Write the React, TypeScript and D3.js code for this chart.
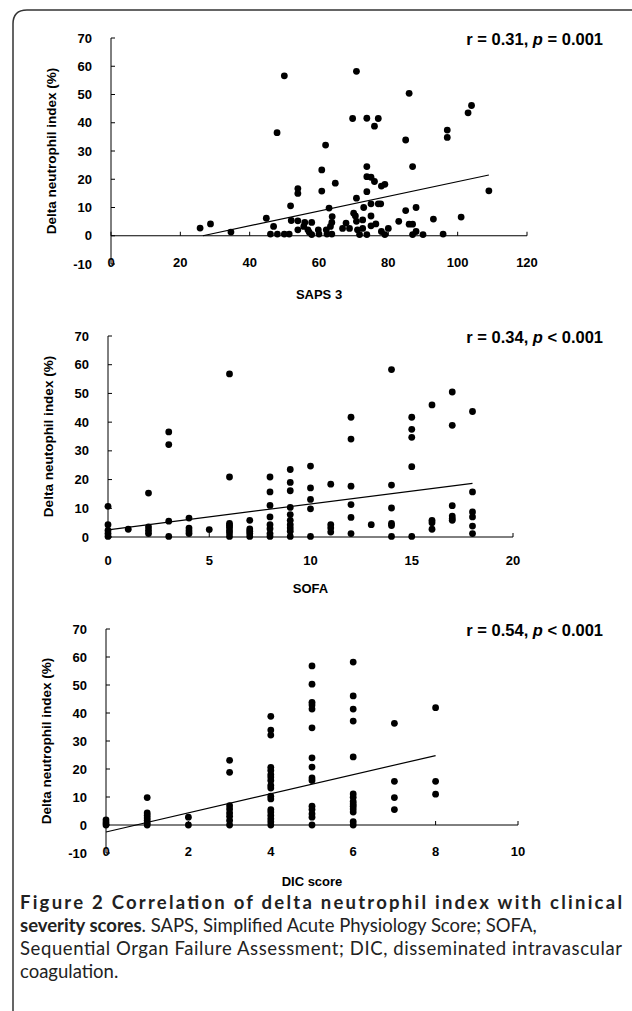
import React from "react";
import * as d3 from "d3";

// SAPS 3 panel: [score, delta neutrophil index]
const sapsPoints: [number, number][] = [
  [25.7, 2.7], [28.7, 4.2], [34.6, 1.3], [44.8, 6.2], [46.9, 3.3], [47.9, 36.5], [46, 0.6], [48, 0.6],
  [50, 56.6], [50, 0.6], [51.4, 0.6], [51.8, 10.6], [52, 5.4], [53.9, 16.7], [53.9, 15], [53.9, 5.3],
  [53.9, 2.1], [55.6, 3.3], [55.9, 4.7], [56.8, 2.1], [57.2, 1.2], [57.9, 4.7], [57.9, 0.4], [59.8, 2.1],
  [60, 0.6], [60.8, 23.3], [60.8, 15.8], [61.9, 32.1], [62.1, 2.1], [62.3, 0.6], [62.9, 9.8], [63.3, 3.3],
  [63.7, 4.7], [63.7, 0.6], [63.8, 6.8], [64.7, 18.6], [66.8, 2.6], [67.8, 4.5], [68.8, 2.6], [69.7, 41.5],
  [70, 8], [70.5, 7], [70.8, 58.2], [70.8, 13.3], [70.8, 5.1], [71.1, 2.1], [71.7, 0.4], [72.6, 2.6],
  [72.6, 5.6], [72.9, 10], [73.8, 41.6], [73.8, 24.5], [73.8, 20.9], [73.8, 15.6], [73.8, 0.4], [75, 20.7],
  [75, 11.3], [75, 7], [75, 3.5], [76, 38.8], [76, 19.2], [76.4, 4.2], [77.1, 41.5], [77.1, 11.3],
  [77.8, 11.3], [78, 17.6], [79, 18.2], [78, 1.5], [79, 0.4], [80, 2.6], [83, 5.1], [85, 33.9],
  [85, 8.9], [86, 50.4], [86, 4.1], [87, 24.5], [87, 4.1], [87, 0.4], [88, 10], [88, 1.5], [90, 0.4],
  [93, 5.9], [95.8, 0.6], [97, 37.4], [97, 34.8], [101, 6.6], [103, 43.5], [104, 46.1], [109, 15.9],
];
const sapsTrend: [number, number][] = [[26.5, 0], [109, 21.5]];

// SOFA panel: score -> list of values
const sofaGroups: [number, number[]][] = [
  [0, [10.7, 4.3, 2.3, 1.2, 0.2]],
  [1, [2.7]],
  [2, [15.3, 3.5, 2.3, 1.2]],
  [3, [36.6, 32.2, 5.5, 0.2]],
  [4, [6.6, 3.1, 2.1, 1.2]],
  [5, [2.6]],
  [6, [56.8, 20.9, 4.7, 4, 3.3, 2.3, 1.4, 0.2]],
  [7, [5.8, 2.8, 2, 1.2, 0.2]],
  [8, [20.9, 15.7, 11, 7, 4.3, 2.9, 1.2, 0.2]],
  [9, [23.5, 19, 16.1, 10.3, 7.8, 5.8, 4.3, 3.1, 2, 0.2]],
  [10, [24.7, 17.1, 13.1, 9.8, 0.2]],
  [11, [18.4, 4.3, 3.1, 1.7]],
  [12, [41.7, 34.1, 17.7, 11.3, 6.8, 1.2]],
  [13, [4.3]],
  [14, [58.3, 18.1, 10.1, 4.7, 4, 0.2]],
  [15, [41.7, 37.5, 34.7, 24.5, 0.2]],
  [16, [46, 5.8, 5, 2.7]],
  [17, [50.5, 38.9, 10.9, 7.3, 6.4, 5.8]],
  [18, [43.7, 15.7, 8.7, 7, 3.8, 1.2]],
];
const sofaTrend: [number, number][] = [[0, 2.5], [18, 18.7]];

// DIC panel
const dicGroups: [number, number[]][] = [
  [0, [1.8, 0.8, 0]],
  [1, [9.8, 4.3, 3.4, 2.5, 1.6, 0.7, 0]],
  [2, [2.8, 0]],
  [3, [23.1, 18.8, 6.9, 5.7, 4.3, 3.1, 1.6, 0]],
  [4, [38.8, 33.9, 32.1, 20.6, 19.5, 18, 17.1, 15.9, 14.1, 13.2, 10.3, 9.3, 5.5, 4.6, 3.4, 2.2, 1.2, 0]],
  [5, [56.8, 50.3, 43.8, 42.9, 41.4, 34.7, 24, 20.7, 16.8, 15.9, 6.7, 5.5, 4, 2.8, 0]],
  [6, [58.2, 46.1, 41.4, 37.1, 24.3, 11.1, 9.9, 8.4, 7.5, 6.7, 5.7, 4.6, 1.2, 0]],
  [7, [36.3, 15.6, 9.8, 5.5]],
  [8, [41.9, 15.6, 11]],
];
const dicTrend: [number, number][] = [[0, -2.5], [8, 24.8]];

const yTicksFull = [-10, 0, 10, 20, 30, 40, 50, 60, 70];
const yTicksPos = [0, 10, 20, 30, 40, 50, 60, 70];

const flat = (g: [number, number[]][]) =>
  g.flatMap(([x, ys]) => ys.map((y) => [x, y] as [number, number]));

const FONT = "'Liberation Sans', Arial, sans-serif";

type PanelProps = {
  points: [number, number][];
  trend: [number, number][];
  xDomain: [number, number];
  xRange: [number, number];
  xTicks: number[];
  yDomain: [number, number];
  yRange: [number, number];
  yTicks: number[];
  xLabel: string;
  xLabelY: number;
  tickLabelY: number;
  yLabel: string;
  stat: string;
  pSign: string;
};

const Panel = (p: PanelProps) => {
  const x = d3.scaleLinear().domain(p.xDomain).range(p.xRange);
  const y = d3.scaleLinear().domain(p.yDomain).range(p.yRange);
  const line = d3.line<[number, number]>().x((d) => x(d[0])).y((d) => y(d[1]));
  const x0 = x(p.xDomain[0]);
  const yMid = (p.yRange[0] + p.yRange[1]) / 2;
  return (
    <g fontFamily={FONT} fontWeight="bold">
      <line x1={x0} x2={x0} y1={y(p.yDomain[0])} y2={y(p.yDomain[1])} stroke="#000" />
      {p.yTicks.map((t) => (
        <g key={t}>
          <line x1={x0} x2={x0 + 4} y1={y(t)} y2={y(t)} stroke="#000" />
          <text x={x0 - 19} y={y(t)} dy="0.35em" textAnchor="end" fontSize={13}>{t}</text>
        </g>
      ))}
      <line x1={x0} x2={x(p.xDomain[1])} y1={y(0)} y2={y(0)} stroke="#000" />
      {p.xTicks.map((t) => (
        <g key={t}>
          <line x1={x(t)} x2={x(t)} y1={y(0)} y2={y(0) - 4} stroke="#000" />
          <text x={x(t)} y={p.tickLabelY} dy="0.35em" textAnchor="middle" fontSize={13}>{t}</text>
        </g>
      ))}
      <path d={line(p.trend) ?? ""} fill="none" stroke="#000" strokeWidth={1.2} />
      {p.points.map((d, i) => (
        <circle key={i} cx={x(d[0])} cy={y(d[1])} r={3.4} fill="#000" />
      ))}
      <text x={(p.xRange[0] + p.xRange[1]) / 2} y={p.xLabelY} dy="0.35em" textAnchor="middle" fontSize={13}>
        {p.xLabel}
      </text>
      <text transform={`translate(${x0 - 60},${yMid}) rotate(-90)`} textAnchor="middle" dy="0.35em" fontSize={13.5}>
        {p.yLabel}
      </text>
      <text x={603} y={y(70) + 1} dy="0.35em" textAnchor="end" fontSize={16.5}>
        {p.stat}, <tspan fontStyle="italic">p</tspan> {p.pSign}
      </text>
    </g>
  );
};

const App = () => (
  <svg width={632} height={1011} style={{ position: "absolute", left: 0, top: 0, background: "#fff" }}>
    <path d="M13,1011 L13,24 Q13,10 27,10 L632,10" fill="none" stroke="#333" strokeWidth={1.5} />
    <Panel points={sapsPoints} trend={sapsTrend} xDomain={[0, 120]} xRange={[111, 527]}
      xTicks={[0, 20, 40, 60, 80, 100, 120]} yDomain={[-10, 70]} yRange={[264, 38]} yTicks={yTicksFull}
      xLabel="SAPS 3" xLabelY={294} tickLabelY={262} yLabel="Delta neutrophil index (%)"
      stat="r = 0.31" pSign="= 0.001" />
    <Panel points={flat(sofaGroups)} trend={sofaTrend} xDomain={[0, 20]} xRange={[108, 513]}
      xTicks={[0, 5, 10, 15, 20]} yDomain={[0, 70]} yRange={[537, 336]} yTicks={yTicksPos}
      xLabel="SOFA" xLabelY={588} tickLabelY={560} yLabel="Delta neutophil index (%)"
      stat="r = 0.34" pSign="< 0.001" />
    <Panel points={flat(dicGroups)} trend={dicTrend} xDomain={[0, 10]} xRange={[106, 518]}
      xTicks={[0, 2, 4, 6, 8, 10]} yDomain={[-10, 70]} yRange={[853, 629]} yTicks={yTicksFull}
      xLabel="DIC score" xLabelY={881} tickLabelY={851} yLabel="Delta neutrophil index (%)"
      stat="r = 0.54" pSign="< 0.001" />
    <g fontFamily="Lato, 'Noto Sans', sans-serif" fontSize={18.5} fill="#222">
      <text x={20} y={909} fontWeight="bold" textLength={602} lengthAdjust="spacing">
        Figure 2 Correlation of delta neutrophil index with clinical
      </text>
      <text x={20} y={932}>
        <tspan fontWeight="bold">severity scores</tspan>. SAPS, Simplified Acute Physiology Score; SOFA,
      </text>
      <text x={20} y={955} textLength={602} lengthAdjust="spacing">
        Sequential Organ Failure Assessment; DIC, disseminated intravascular
      </text>
      <text x={20} y={978}>coagulation.</text>
    </g>
  </svg>
);

export default App;
